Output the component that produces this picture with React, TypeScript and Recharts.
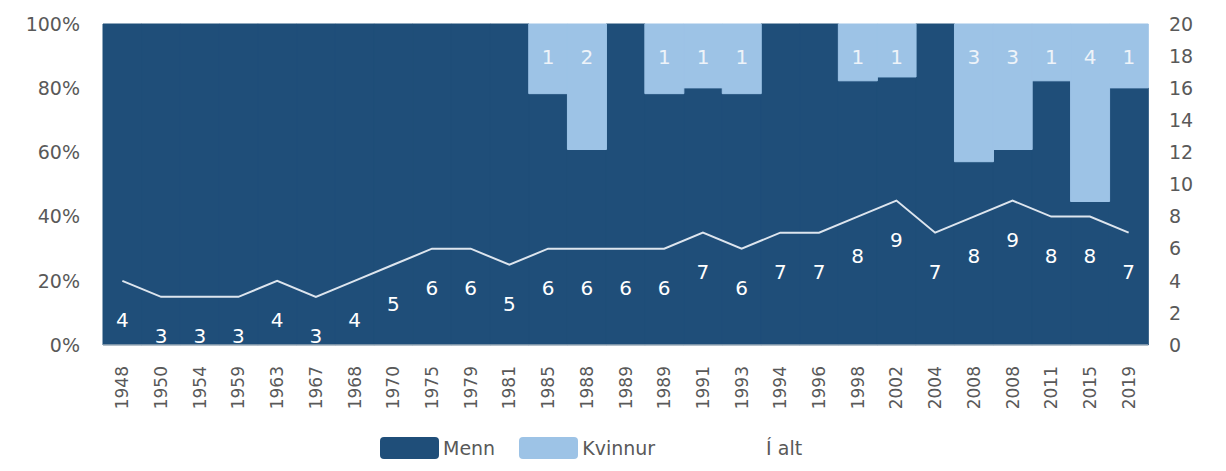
import { ComposedChart, Bar, Line, XAxis, YAxis, Legend, LabelList } from "recharts";

const years = [
  "1948", "1950", "1954", "1959", "1963", "1967", "1968", "1970", "1975",
  "1979", "1981", "1985", "1988", "1989", "1989", "1991", "1993", "1994",
  "1996", "1998", "2002", "2004", "2008", "2008", "2011", "2015", "2019",
];
// share of seats (%), as drawn
const mennShare = [
  100, 100, 100, 100, 100, 100, 100, 100, 100, 100, 100, 78.3, 60.9, 100,
  78.3, 80.1, 78.3, 100, 100, 82.3, 83.5, 100, 57.1, 60.9, 82.3, 44.7, 80.1,
];
const kvinnurShare = [
  0, 0, 0, 0, 0, 0, 0, 0, 0, 0, 0, 21.7, 39.1, 0, 21.7, 19.9, 21.7, 0, 0,
  17.7, 16.5, 0, 42.9, 39.1, 17.7, 55.3, 19.9,
];
const kvinnurCount = [
  0, 0, 0, 0, 0, 0, 0, 0, 0, 0, 0, 1, 2, 0, 1, 1, 1, 0, 0, 1, 1, 0, 3, 3, 1, 4, 1,
];
const total = [
  4, 3, 3, 3, 4, 3, 4, 5, 6, 6, 5, 6, 6, 6, 6, 7, 6, 7, 7, 8, 9, 7, 8, 9, 8, 8, 7,
];
const pctTicks = [0, 20, 40, 60, 80, 100];
const countTicks = [0, 2, 4, 6, 8, 10, 12, 14, 16, 18, 20];

const DARK = "#1f4e79";
const LIGHT = "#9dc3e6";
const GREY = "#595959";
const FONT = "'DejaVu Sans', sans-serif";

const data = years.map((year, i) => ({
  year,
  menn: mennShare[i],
  kvinnur: kvinnurShare[i],
  kvinnurCount: kvinnurCount[i],
  total: total[i],
}));

const YearTick = (props: any) => {
  const { x, y, payload } = props;
  return (
    <text
      x={x}
      y={y}
      transform={`rotate(-90, ${x}, ${y})`}
      textAnchor="end"
      dominantBaseline="central"
      fill={GREY}
      fontSize={17}
      fontFamily={FONT}
    >
      {payload.value}
    </text>
  );
};

const WomenLabel = (props: any) => {
  const { x, y, width, value } = props;
  if (!value) return null;
  return (
    <text
      x={x + width / 2}
      y={y + 33}
      textAnchor="middle"
      dominantBaseline="central"
      fill="#eef3f9"
      fontSize={20}
      fontFamily={FONT}
    >
      {value}
    </text>
  );
};

const TotalLabel = (props: any) => {
  const { x, y, value } = props;
  return (
    <text
      x={x}
      y={y + 39}
      textAnchor="middle"
      dominantBaseline="central"
      fill="#ffffff"
      fontSize={20}
      fontFamily={FONT}
    >
      {value}
    </text>
  );
};

const legendItems = [
  { name: "Menn", kind: "box", color: DARK, gap: 24 },
  { name: "Kvinnur", kind: "box", color: LIGHT, gap: 48 },
  { name: "Í alt", kind: "line", color: "#ffffff", gap: 0 },
];

const ChartLegend = () => (
  <div
    style={{
      height: 46,
      display: "flex",
      alignItems: "center",
      paddingLeft: 380,
      fontFamily: FONT,
      fontSize: 19,
      color: GREY,
    }}
  >
    {legendItems.map((item) => (
      <div key={item.name} style={{ display: "flex", alignItems: "center", marginRight: item.gap }}>
        {item.kind === "box" ? (
          <div style={{ width: 59, height: 22, background: item.color, borderRadius: 4, marginRight: 4 }} />
        ) : (
          <div style={{ width: 59, height: 2, background: item.color, marginRight: 4 }} />
        )}
        <span>{item.name}</span>
      </div>
    ))}
  </div>
);

export default function App() {
  return (
    <div style={{ position: "absolute", left: 0, top: 0, background: "#fff" }}>
      <ComposedChart
        width={1226}
        height={471}
        data={data}
        margin={{ top: 24, right: 0, bottom: 0, left: 0 }}
        barCategoryGap={0}
        barGap={0}
      >
        <XAxis
          dataKey="year"
          interval={0}
          tick={<YearTick />}
          tickLine={false}
          tickMargin={15}
          height={80}
          axisLine={{ stroke: "#d9d9d9" }}
        />
        <YAxis
          yAxisId="pct"
          domain={[0, 100]}
          ticks={pctTicks}
          tickFormatter={(v: number) => `${v}%`}
          width={103}
          axisLine={false}
          tickLine={false}
          tickMargin={17}
          tick={{ fill: GREY, fontSize: 19, fontFamily: FONT }}
        />
        <YAxis
          yAxisId="count"
          orientation="right"
          domain={[0, 20]}
          ticks={countTicks}
          width={78}
          axisLine={false}
          tickLine={false}
          tickMargin={15}
          tick={{ fill: GREY, fontSize: 19, fontFamily: FONT }}
        />
        <Legend verticalAlign="bottom" content={<ChartLegend />} wrapperStyle={{ left: 0, width: 1226 }} />
        <Bar
          yAxisId="pct"
          dataKey="menn"
          name="Menn"
          stackId="a"
          fill={DARK}
          stroke={DARK}
          strokeWidth={1}
          isAnimationActive={false}
        />
        <Bar
          yAxisId="pct"
          dataKey="kvinnur"
          name="Kvinnur"
          stackId="a"
          fill={LIGHT}
          stroke={LIGHT}
          strokeWidth={1}
          isAnimationActive={false}
        >
          <LabelList dataKey="kvinnurCount" content={<WomenLabel />} />
        </Bar>
        <Line
          yAxisId="count"
          dataKey="total"
          name="Í alt"
          type="linear"
          stroke="#dde5ee"
          strokeWidth={2}
          dot={false}
          isAnimationActive={false}
        >
          <LabelList dataKey="total" content={<TotalLabel />} />
        </Line>
      </ComposedChart>
    </div>
  );
}
